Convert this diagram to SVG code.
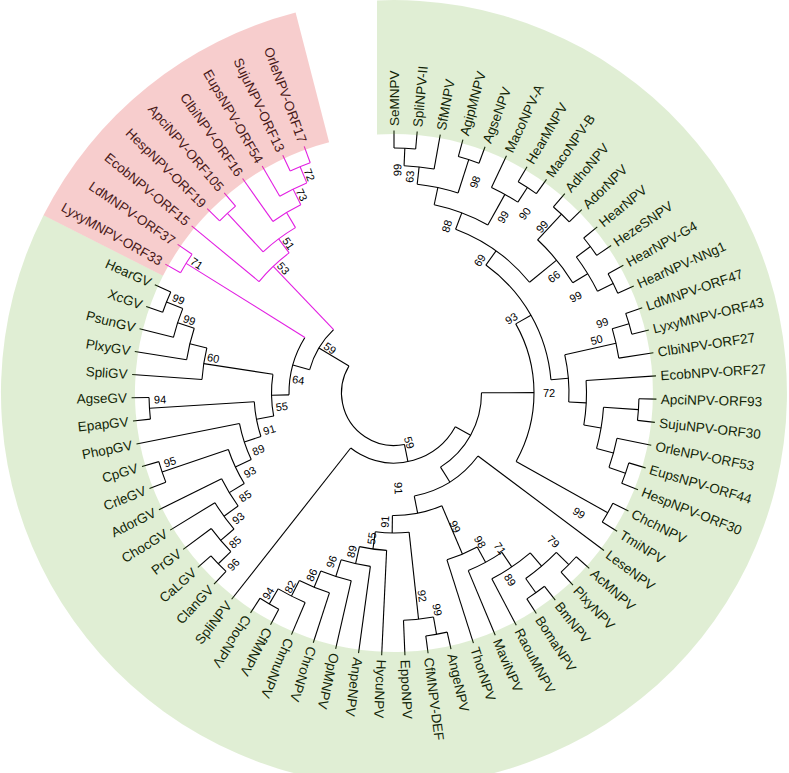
<svg xmlns="http://www.w3.org/2000/svg" width="789" height="773" viewBox="0 0 789 773">
<style>
.e{fill:none;stroke:#000;stroke-width:1.1}
.m{stroke:#e21ee2}
.lf{font-family:"Liberation Sans",Arial,sans-serif;font-size:13.5px;fill:#000}
.fl{text-anchor:end}
.bs{font-family:"Liberation Sans",Arial,sans-serif;font-size:11px;fill:#000;text-anchor:middle}
</style>
<rect width="789" height="773" fill="#fff"/>
<g transform="translate(394,393)">
<g id="connectors">
<g class="e">
<circle r="245" pathLength="360" stroke-dasharray="5.07 400" transform="rotate(-90)"/>
<circle r="227.5" pathLength="360" stroke-dasharray="7.615 400" transform="rotate(-87.465)"/>
<circle r="245" pathLength="360" stroke-dasharray="5.08 400" transform="rotate(-74.78)"/>
<circle r="210" pathLength="360" stroke-dasharray="11.42 400" transform="rotate(-83.66)"/>
<circle r="245" pathLength="360" stroke-dasharray="5.07 400" transform="rotate(-59.55)"/>
<circle r="227.5" pathLength="360" stroke-dasharray="7.615 400" transform="rotate(-64.63)"/>
<circle r="192.5" pathLength="360" stroke-dasharray="17.13 400" transform="rotate(-77.95)"/>
<circle r="245" pathLength="360" stroke-dasharray="5.07 400" transform="rotate(-49.40)"/>
<circle r="245" pathLength="360" stroke-dasharray="5.07 400" transform="rotate(-39.25)"/>
<circle r="245" pathLength="360" stroke-dasharray="5.07 400" transform="rotate(-29.10)"/>
<circle r="227.5" pathLength="360" stroke-dasharray="10.15 400" transform="rotate(-36.715)"/>
<circle r="210" pathLength="360" stroke-dasharray="15.225 400" transform="rotate(-46.865)"/>
<circle r="175" pathLength="360" stroke-dasharray="30.135 400" transform="rotate(-69.385)"/>
<circle r="245" pathLength="360" stroke-dasharray="5.08 400" transform="rotate(-18.96)"/>
<circle r="227.5" pathLength="360" stroke-dasharray="7.61 400" transform="rotate(-16.42)"/>
<circle r="245" pathLength="360" stroke-dasharray="5.08 400" transform="rotate(1.34)"/>
<circle r="245" pathLength="360" stroke-dasharray="5.07 400" transform="rotate(16.57)"/>
<circle r="227.5" pathLength="360" stroke-dasharray="7.615 400" transform="rotate(11.49)"/>
<circle r="210" pathLength="360" stroke-dasharray="11.42 400" transform="rotate(3.88)"/>
<circle r="192.5" pathLength="360" stroke-dasharray="13.32 400" transform="rotate(-3.73)"/>
<circle r="175" pathLength="360" stroke-dasharray="15.545 400" transform="rotate(-12.615)"/>
<circle r="157.5" pathLength="360" stroke-dasharray="49.48 400" transform="rotate(-54.32)"/>
<circle r="245" pathLength="360" stroke-dasharray="5.07 400" transform="rotate(26.72)"/>
<circle r="140" pathLength="360" stroke-dasharray="58.835 400" transform="rotate(-29.58)"/>
<circle r="245" pathLength="360" stroke-dasharray="5.07 400" transform="rotate(52.09)"/>
<circle r="245" pathLength="360" stroke-dasharray="5.07 400" transform="rotate(41.94)"/>
<circle r="227.5" pathLength="360" stroke-dasharray="10.15 400" transform="rotate(44.475)"/>
<circle r="210" pathLength="360" stroke-dasharray="12.69 400" transform="rotate(49.55)"/>
<circle r="192.5" pathLength="360" stroke-dasharray="11.415 400" transform="rotate(55.895)"/>
<circle r="175" pathLength="360" stroke-dasharray="10.79 400" transform="rotate(61.60)"/>
<circle r="245" pathLength="360" stroke-dasharray="5.08 400" transform="rotate(77.46)"/>
<circle r="227.5" pathLength="360" stroke-dasharray="7.61 400" transform="rotate(80)"/>
<circle r="245" pathLength="360" stroke-dasharray="5.07 400" transform="rotate(118.06)"/>
<circle r="227.5" pathLength="360" stroke-dasharray="7.605 400" transform="rotate(112.99)"/>
<circle r="210" pathLength="360" stroke-dasharray="8.88 400" transform="rotate(107.91)"/>
<circle r="192.5" pathLength="360" stroke-dasharray="9.51 400" transform="rotate(102.84)"/>
<circle r="175" pathLength="360" stroke-dasharray="9.835 400" transform="rotate(97.76)"/>
<circle r="157.5" pathLength="360" stroke-dasharray="9.995 400" transform="rotate(92.69)"/>
<circle r="140" pathLength="360" stroke-dasharray="13.88 400" transform="rotate(83.805)"/>
<circle r="122.5" pathLength="360" stroke-dasharray="23.745 400" transform="rotate(67)"/>
<circle r="105" pathLength="360" stroke-dasharray="42 400" transform="rotate(36.87)"/>
<circle r="87.5" pathLength="360" stroke-dasharray="58.03 400" transform="rotate(-0.16)"/>
<circle r="70" pathLength="360" stroke-dasharray="99.355 400" transform="rotate(28.855)"/>
<circle r="245" pathLength="360" stroke-dasharray="5.08 400" transform="rotate(133.28)"/>
<circle r="227.5" pathLength="360" stroke-dasharray="7.61 400" transform="rotate(135.82)"/>
<circle r="210" pathLength="360" stroke-dasharray="8.885 400" transform="rotate(139.625)"/>
<circle r="192.5" pathLength="360" stroke-dasharray="9.51 400" transform="rotate(144.07)"/>
<circle r="245" pathLength="360" stroke-dasharray="5.07 400" transform="rotate(158.66)"/>
<circle r="175" pathLength="360" stroke-dasharray="12.37 400" transform="rotate(148.825)"/>
<circle r="157.5" pathLength="360" stroke-dasharray="13.8 400" transform="rotate(155.01)"/>
<circle r="245" pathLength="360" stroke-dasharray="5.08 400" transform="rotate(173.88)"/>
<circle r="140" pathLength="360" stroke-dasharray="14.51 400" transform="rotate(161.91)"/>
<circle r="245" pathLength="360" stroke-dasharray="5.08 400" transform="rotate(199.25)"/>
<circle r="227.5" pathLength="360" stroke-dasharray="7.61 400" transform="rotate(194.18)"/>
<circle r="210" pathLength="360" stroke-dasharray="8.885 400" transform="rotate(189.10)"/>
<circle r="192.5" pathLength="360" stroke-dasharray="9.51 400" transform="rotate(184.03)"/>
<circle r="122.5" pathLength="360" stroke-dasharray="19.62 400" transform="rotate(169.165)"/>
<circle r="105" pathLength="360" stroke-dasharray="32.965 400" transform="rotate(178.975)"/>
<circle r="87.5" pathLength="360" stroke-dasharray="30.91 400" transform="rotate(195.46)"/>
<circle r="52.5" pathLength="360" stroke-dasharray="132.385 400" transform="rotate(78.53)"/>
<path d="M227.5 0H245" transform="rotate(-87.465)"/>
<path d="M210 0H227.5" transform="rotate(-83.66)"/>
<path d="M210 0H245" transform="rotate(-72.24)"/>
<path d="M192.5 0H210" transform="rotate(-77.95)"/>
<path d="M227.5 0H245" transform="rotate(-57.015)"/>
<path d="M192.5 0H227.5" transform="rotate(-60.82)"/>
<path d="M175 0H192.5" transform="rotate(-69.385)"/>
<path d="M210 0H245" transform="rotate(-46.865)"/>
<path d="M227.5 0H245" transform="rotate(-36.715)"/>
<path d="M227.5 0H245" transform="rotate(-26.565)"/>
<path d="M210 0H227.5" transform="rotate(-31.64)"/>
<path d="M175 0H210" transform="rotate(-39.25)"/>
<path d="M157.5 0H175" transform="rotate(-54.32)"/>
<path d="M227.5 0H245" transform="rotate(-16.42)"/>
<path d="M175 0H227.5" transform="rotate(-12.615)"/>
<path d="M210 0H245" transform="rotate(3.88)"/>
<path d="M227.5 0H245" transform="rotate(19.105)"/>
<path d="M210 0H227.5" transform="rotate(15.30)"/>
<path d="M192.5 0H210" transform="rotate(9.59)"/>
<path d="M175 0H192.5" transform="rotate(2.93)"/>
<path d="M157.5 0H175" transform="rotate(-4.84)"/>
<path d="M140 0H157.5" transform="rotate(-29.58)"/>
<path d="M140 0H245" transform="rotate(29.255)"/>
<path d="M87.5 0H140" transform="rotate(-0.16)"/>
<path d="M227.5 0H245" transform="rotate(54.625)"/>
<path d="M227.5 0H245" transform="rotate(44.475)"/>
<path d="M210 0H227.5" transform="rotate(49.55)"/>
<path d="M192.5 0H210" transform="rotate(55.895)"/>
<path d="M175 0H192.5" transform="rotate(61.60)"/>
<path d="M122.5 0H175" transform="rotate(67)"/>
<path d="M227.5 0H245" transform="rotate(80)"/>
<path d="M140 0H227.5" transform="rotate(83.805)"/>
<path d="M227.5 0H245" transform="rotate(120.595)"/>
<path d="M210 0H227.5" transform="rotate(116.79)"/>
<path d="M192.5 0H210" transform="rotate(112.35)"/>
<path d="M175 0H192.5" transform="rotate(107.595)"/>
<path d="M157.5 0H175" transform="rotate(102.68)"/>
<path d="M140 0H157.5" transform="rotate(97.685)"/>
<path d="M122.5 0H140" transform="rotate(90.745)"/>
<path d="M105 0H122.5" transform="rotate(78.87)"/>
<path d="M87.5 0H105" transform="rotate(57.87)"/>
<path d="M70 0H87.5" transform="rotate(28.855)"/>
<path d="M52.5 0H70" transform="rotate(78.53)"/>
<path d="M227.5 0H245" transform="rotate(135.82)"/>
<path d="M210 0H227.5" transform="rotate(139.625)"/>
<path d="M192.5 0H210" transform="rotate(144.07)"/>
<path d="M175 0H192.5" transform="rotate(148.825)"/>
<path d="M175 0H245" transform="rotate(161.195)"/>
<path d="M157.5 0H175" transform="rotate(155.01)"/>
<path d="M140 0H157.5" transform="rotate(161.91)"/>
<path d="M140 0H245" transform="rotate(176.42)"/>
<path d="M122.5 0H140" transform="rotate(169.165)"/>
<path d="M227.5 0H245" transform="rotate(201.79)"/>
<path d="M210 0H227.5" transform="rotate(197.985)"/>
<path d="M192.5 0H210" transform="rotate(193.54)"/>
<path d="M122.5 0H192.5" transform="rotate(188.785)"/>
<path d="M105 0H122.5" transform="rotate(178.975)"/>
<path d="M87.5 0H105" transform="rotate(195.46)"/>
<path d="M52.5 0H87.5" transform="rotate(210.915)"/>
<path d="M245 0H262.5" transform="rotate(-90)"/>
<path d="M245 0H262.5" transform="rotate(-84.93)"/>
<path d="M227.5 0H262.5" transform="rotate(-79.85)"/>
<path d="M245 0H262.5" transform="rotate(-74.78)"/>
<path d="M245 0H262.5" transform="rotate(-69.70)"/>
<path d="M227.5 0H262.5" transform="rotate(-64.63)"/>
<path d="M245 0H262.5" transform="rotate(-59.55)"/>
<path d="M245 0H262.5" transform="rotate(-54.48)"/>
<path d="M245 0H262.5" transform="rotate(-49.40)"/>
<path d="M245 0H262.5" transform="rotate(-44.33)"/>
<path d="M245 0H262.5" transform="rotate(-39.25)"/>
<path d="M245 0H262.5" transform="rotate(-34.18)"/>
<path d="M245 0H262.5" transform="rotate(-29.10)"/>
<path d="M245 0H262.5" transform="rotate(-24.03)"/>
<path d="M245 0H262.5" transform="rotate(-18.96)"/>
<path d="M245 0H262.5" transform="rotate(-13.88)"/>
<path d="M227.5 0H262.5" transform="rotate(-8.81)"/>
<path d="M192.5 0H262.5" transform="rotate(-3.73)"/>
<path d="M245 0H262.5" transform="rotate(1.34)"/>
<path d="M245 0H262.5" transform="rotate(6.42)"/>
<path d="M227.5 0H262.5" transform="rotate(11.49)"/>
<path d="M245 0H262.5" transform="rotate(16.57)"/>
<path d="M245 0H262.5" transform="rotate(21.64)"/>
<path d="M245 0H262.5" transform="rotate(26.72)"/>
<path d="M245 0H262.5" transform="rotate(31.79)"/>
<path d="M105 0H262.5" transform="rotate(36.87)"/>
<path d="M245 0H262.5" transform="rotate(41.94)"/>
<path d="M245 0H262.5" transform="rotate(47.01)"/>
<path d="M245 0H262.5" transform="rotate(52.09)"/>
<path d="M245 0H262.5" transform="rotate(57.16)"/>
<path d="M210 0H262.5" transform="rotate(62.24)"/>
<path d="M192.5 0H262.5" transform="rotate(67.31)"/>
<path d="M175 0H262.5" transform="rotate(72.39)"/>
<path d="M245 0H262.5" transform="rotate(77.46)"/>
<path d="M245 0H262.5" transform="rotate(82.54)"/>
<path d="M227.5 0H262.5" transform="rotate(87.61)"/>
<path d="M157.5 0H262.5" transform="rotate(92.69)"/>
<path d="M175 0H262.5" transform="rotate(97.76)"/>
<path d="M192.5 0H262.5" transform="rotate(102.84)"/>
<path d="M210 0H262.5" transform="rotate(107.91)"/>
<path d="M227.5 0H262.5" transform="rotate(112.99)"/>
<path d="M245 0H262.5" transform="rotate(118.06)"/>
<path d="M245 0H262.5" transform="rotate(123.13)"/>
<path d="M70 0H262.5" transform="rotate(128.21)"/>
<path d="M245 0H262.5" transform="rotate(133.28)"/>
<path d="M245 0H262.5" transform="rotate(138.36)"/>
<path d="M227.5 0H262.5" transform="rotate(143.43)"/>
<path d="M210 0H262.5" transform="rotate(148.51)"/>
<path d="M192.5 0H262.5" transform="rotate(153.58)"/>
<path d="M245 0H262.5" transform="rotate(158.66)"/>
<path d="M245 0H262.5" transform="rotate(163.73)"/>
<path d="M157.5 0H262.5" transform="rotate(168.81)"/>
<path d="M245 0H262.5" transform="rotate(173.88)"/>
<path d="M245 0H262.5" transform="rotate(178.96)"/>
<path d="M192.5 0H262.5" transform="rotate(184.03)"/>
<path d="M210 0H262.5" transform="rotate(189.10)"/>
<path d="M227.5 0H262.5" transform="rotate(194.18)"/>
<path d="M245 0H262.5" transform="rotate(199.25)"/>
<path d="M245 0H262.5" transform="rotate(204.33)"/>
</g>
<g class="e m">
<circle r="245" pathLength="360" stroke-dasharray="5.08 400" transform="rotate(209.40)"/>
<circle r="245" pathLength="360" stroke-dasharray="5.07 400" transform="rotate(244.93)"/>
<circle r="227.5" pathLength="360" stroke-dasharray="7.615 400" transform="rotate(239.85)"/>
<circle r="210" pathLength="360" stroke-dasharray="8.88 400" transform="rotate(234.78)"/>
<circle r="245" pathLength="360" stroke-dasharray="5.07 400" transform="rotate(224.63)"/>
<circle r="192.5" pathLength="360" stroke-dasharray="12.055 400" transform="rotate(227.165)"/>
<circle r="175" pathLength="360" stroke-dasharray="13.64 400" transform="rotate(219.55)"/>
<path d="M105 0H245" transform="rotate(211.94)"/>
<path d="M227.5 0H245" transform="rotate(247.465)"/>
<path d="M210 0H227.5" transform="rotate(243.66)"/>
<path d="M192.5 0H210" transform="rotate(239.22)"/>
<path d="M192.5 0H245" transform="rotate(227.165)"/>
<path d="M175 0H192.5" transform="rotate(233.19)"/>
<path d="M87.5 0H175" transform="rotate(226.37)"/>
<path d="M245 0H262.5" transform="rotate(209.40)"/>
<path d="M245 0H262.5" transform="rotate(214.48)"/>
<path d="M175 0H262.5" transform="rotate(219.55)"/>
<path d="M245 0H262.5" transform="rotate(224.63)"/>
<path d="M245 0H262.5" transform="rotate(229.70)"/>
<path d="M210 0H262.5" transform="rotate(234.78)"/>
<path d="M227.5 0H262.5" transform="rotate(239.85)"/>
<path d="M245 0H262.5" transform="rotate(244.93)"/>
<path d="M245 0H262.5" transform="rotate(250)"/>
</g>
</g>
<g id="leaves" class="lf">
<g id="leaf-SeMNPV"><text transform="rotate(-90) translate(267)" dy=".35em">SeMNPV</text></g>
<g id="leaf-SpliNPV-II"><text transform="rotate(-84.93) translate(267)" dy=".35em">SpliNPV-II</text></g>
<g id="leaf-SfMNPV"><text transform="rotate(-79.85) translate(267)" dy=".35em">SfMNPV</text></g>
<g id="leaf-AgipMNPV"><text transform="rotate(-74.78) translate(267)" dy=".35em">AgipMNPV</text></g>
<g id="leaf-AgseNPV"><text transform="rotate(-69.70) translate(267)" dy=".35em">AgseNPV</text></g>
<g id="leaf-MacoNPV-A"><text transform="rotate(-64.63) translate(267)" dy=".35em">MacoNPV-A</text></g>
<g id="leaf-HearMNPV"><text transform="rotate(-59.55) translate(267)" dy=".35em">HearMNPV</text></g>
<g id="leaf-MacoNPV-B"><text transform="rotate(-54.48) translate(267)" dy=".35em">MacoNPV-B</text></g>
<g id="leaf-AdhoNPV"><text transform="rotate(-49.40) translate(267)" dy=".35em">AdhoNPV</text></g>
<g id="leaf-AdorNPV"><text transform="rotate(-44.33) translate(267)" dy=".35em">AdorNPV</text></g>
<g id="leaf-HearNPV"><text transform="rotate(-39.25) translate(267)" dy=".35em">HearNPV</text></g>
<g id="leaf-HezeSNPV"><text transform="rotate(-34.18) translate(267)" dy=".35em">HezeSNPV</text></g>
<g id="leaf-HearNPV-G4"><text transform="rotate(-29.10) translate(267)" dy=".35em">HearNPV-G4</text></g>
<g id="leaf-HearNPV-NNg1"><text transform="rotate(-24.03) translate(267)" dy=".35em">HearNPV-NNg1</text></g>
<g id="leaf-LdMNPV-ORF47"><text transform="rotate(-18.96) translate(267)" dy=".35em">LdMNPV-ORF47</text></g>
<g id="leaf-LyxyMNPV-ORF43"><text transform="rotate(-13.88) translate(267)" dy=".35em">LyxyMNPV-ORF43</text></g>
<g id="leaf-ClbiNPV-ORF27"><text transform="rotate(-8.81) translate(267)" dy=".35em">ClbiNPV-ORF27</text></g>
<g id="leaf-EcobNPV-ORF27"><text transform="rotate(-3.73) translate(267)" dy=".35em">EcobNPV-ORF27</text></g>
<g id="leaf-ApciNPV-ORF93"><text transform="rotate(1.34) translate(267)" dy=".35em">ApciNPV-ORF93</text></g>
<g id="leaf-SujuNPV-ORF30"><text transform="rotate(6.42) translate(267)" dy=".35em">SujuNPV-ORF30</text></g>
<g id="leaf-OrleNPV-ORF53"><text transform="rotate(11.49) translate(267)" dy=".35em">OrleNPV-ORF53</text></g>
<g id="leaf-EupsNPV-ORF44"><text transform="rotate(16.57) translate(267)" dy=".35em">EupsNPV-ORF44</text></g>
<g id="leaf-HespNPV-ORF30"><text transform="rotate(21.64) translate(267)" dy=".35em">HespNPV-ORF30</text></g>
<g id="leaf-ChchNPV"><text transform="rotate(26.72) translate(267)" dy=".35em">ChchNPV</text></g>
<g id="leaf-TmiNPV"><text transform="rotate(31.79) translate(267)" dy=".35em">TmiNPV</text></g>
<g id="leaf-LeseNPV"><text transform="rotate(36.87) translate(267)" dy=".35em">LeseNPV</text></g>
<g id="leaf-AcMNPV"><text transform="rotate(41.94) translate(267)" dy=".35em">AcMNPV</text></g>
<g id="leaf-PlxyNPV"><text transform="rotate(47.01) translate(267)" dy=".35em">PlxyNPV</text></g>
<g id="leaf-BmNPV"><text transform="rotate(52.09) translate(267)" dy=".35em">BmNPV</text></g>
<g id="leaf-BomaNPV"><text transform="rotate(57.16) translate(267)" dy=".35em">BomaNPV</text></g>
<g id="leaf-RaouMNPV"><text transform="rotate(62.24) translate(267)" dy=".35em">RaouMNPV</text></g>
<g id="leaf-MaviNPV"><text transform="rotate(67.31) translate(267)" dy=".35em">MaviNPV</text></g>
<g id="leaf-ThorNPV"><text transform="rotate(72.39) translate(267)" dy=".35em">ThorNPV</text></g>
<g id="leaf-AngeNPV"><text transform="rotate(77.46) translate(267)" dy=".35em">AngeNPV</text></g>
<g id="leaf-CfMNPV-DEF"><text transform="rotate(82.54) translate(267)" dy=".35em">CfMNPV-DEF</text></g>
<g id="leaf-EppoNPV"><text transform="rotate(87.61) translate(267)" dy=".35em">EppoNPV</text></g>
<g id="leaf-HycuNPV"><text transform="rotate(92.69) translate(267)" dy=".35em">HycuNPV</text></g>
<g id="leaf-AnpeNPV"><text transform="rotate(97.76) translate(267)" dy=".35em">AnpeNPV</text></g>
<g id="leaf-OpMNPV"><text transform="rotate(102.84) translate(267)" dy=".35em">OpMNPV</text></g>
<g id="leaf-ChroNPV"><text transform="rotate(107.91) translate(267)" dy=".35em">ChroNPV</text></g>
<g id="leaf-ChmuNPV"><text transform="rotate(112.99) translate(267)" dy=".35em">ChmuNPV</text></g>
<g id="leaf-CfMNPV"><text transform="rotate(118.06) translate(267)" dy=".35em">CfMNPV</text></g>
<g id="leaf-ChocNPV"><text transform="rotate(123.13) translate(267)" dy=".35em">ChocNPV</text></g>
<g id="leaf-SpliNPV"><text class="fl" transform="rotate(128.21) translate(267) rotate(180)" dy=".35em">SpliNPV</text></g>
<g id="leaf-ClanGV"><text class="fl" transform="rotate(133.28) translate(267) rotate(180)" dy=".35em">ClanGV</text></g>
<g id="leaf-CaLGV"><text class="fl" transform="rotate(138.36) translate(267) rotate(180)" dy=".35em">CaLGV</text></g>
<g id="leaf-PrGV"><text class="fl" transform="rotate(143.43) translate(267) rotate(180)" dy=".35em">PrGV</text></g>
<g id="leaf-ChocGV"><text class="fl" transform="rotate(148.51) translate(267) rotate(180)" dy=".35em">ChocGV</text></g>
<g id="leaf-AdorGV"><text class="fl" transform="rotate(153.58) translate(267) rotate(180)" dy=".35em">AdorGV</text></g>
<g id="leaf-CrleGV"><text class="fl" transform="rotate(158.66) translate(267) rotate(180)" dy=".35em">CrleGV</text></g>
<g id="leaf-CpGV"><text class="fl" transform="rotate(163.73) translate(267) rotate(180)" dy=".35em">CpGV</text></g>
<g id="leaf-PhopGV"><text class="fl" transform="rotate(168.81) translate(267) rotate(180)" dy=".35em">PhopGV</text></g>
<g id="leaf-EpapGV"><text class="fl" transform="rotate(173.88) translate(267) rotate(180)" dy=".35em">EpapGV</text></g>
<g id="leaf-AgseGV"><text class="fl" transform="rotate(178.96) translate(267) rotate(180)" dy=".35em">AgseGV</text></g>
<g id="leaf-SpliGV"><text class="fl" transform="rotate(184.03) translate(267) rotate(180)" dy=".35em">SpliGV</text></g>
<g id="leaf-PlxyGV"><text class="fl" transform="rotate(189.10) translate(267) rotate(180)" dy=".35em">PlxyGV</text></g>
<g id="leaf-PsunGV"><text class="fl" transform="rotate(194.18) translate(267) rotate(180)" dy=".35em">PsunGV</text></g>
<g id="leaf-XcGV"><text class="fl" transform="rotate(199.25) translate(267) rotate(180)" dy=".35em">XcGV</text></g>
<g id="leaf-HearGV"><text class="fl" transform="rotate(204.33) translate(267) rotate(180)" dy=".35em">HearGV</text></g>
<g id="leaf-LyxyMNPV-ORF33"><text class="fl" transform="rotate(209.40) translate(267) rotate(180)" dy=".35em">LyxyMNPV-ORF33</text></g>
<g id="leaf-LdMNPV-ORF37"><text class="fl" transform="rotate(214.48) translate(267) rotate(180)" dy=".35em">LdMNPV-ORF37</text></g>
<g id="leaf-EcobNPV-ORF15"><text class="fl" transform="rotate(219.55) translate(267) rotate(180)" dy=".35em">EcobNPV-ORF15</text></g>
<g id="leaf-HespNPV-ORF19"><text class="fl" transform="rotate(224.63) translate(267) rotate(180)" dy=".35em">HespNPV-ORF19</text></g>
<g id="leaf-ApciNPV-ORF105"><text class="fl" transform="rotate(229.70) translate(267) rotate(180)" dy=".35em">ApciNPV-ORF105</text></g>
<g id="leaf-ClbiNPV-ORF16"><text class="fl" transform="rotate(234.78) translate(267) rotate(180)" dy=".35em">ClbiNPV-ORF16</text></g>
<g id="leaf-EupsNPV-ORF54"><text class="fl" transform="rotate(239.85) translate(267) rotate(180)" dy=".35em">EupsNPV-ORF54</text></g>
<g id="leaf-SujuNPV-ORF13"><text class="fl" transform="rotate(244.93) translate(267) rotate(180)" dy=".35em">SujuNPV-ORF13</text></g>
<g id="leaf-OrleNPV-ORF17"><text class="fl" transform="rotate(250) translate(267) rotate(180)" dy=".35em">OrleNPV-ORF17</text></g>
</g>
<g id="support" class="bs">
<g id="node-n1"><text transform="rotate(-89.1) translate(223)" dy=".35em">99</text></g>
<g id="node-n2"><text transform="rotate(-85.8) translate(216.9)" dy=".35em">63</text></g>
<g id="node-n3"><text transform="rotate(-69) translate(226)" dy=".35em">98</text></g>
<g id="node-n7"><text transform="rotate(-72.4) translate(175)" dy=".35em">88</text></g>
<g id="node-n5"><text transform="rotate(-58.2) translate(207)" dy=".35em">99</text></g>
<g id="node-n6"><text transform="rotate(-53.9) translate(222)" dy=".35em">90</text></g>
<g id="node-n8"><text transform="rotate(-57.1) translate(158)" dy=".35em">69</text></g>
<g id="node-n9"><text transform="rotate(-48.3) translate(222.8)" dy=".35em">99</text></g>
<g id="node-n13"><text transform="rotate(-36) translate(197.8)" dy=".35em">66</text></g>
<g id="node-n12"><text transform="rotate(-27.9) translate(205.6)" dy=".35em">99</text></g>
<g id="node-n158"><text transform="rotate(-32.4) translate(139)" dy=".35em">93</text></g>
<g id="node-n15"><text transform="rotate(-18.6) translate(219.7)" dy=".35em">99</text></g>
<g id="node-n16"><text transform="rotate(-14.7) translate(209.5)" dy=".35em">50</text></g>
<g id="node-n17"><text transform="rotate(0) translate(155)" dy=".35em">72</text></g>
<g id="node-nT"><text transform="rotate(33) translate(220.5)" dy=".35em">99</text></g>
<g id="node-L"><text transform="rotate(43) translate(218)" dy=".35em">79</text></g>
<g id="node-K"><text transform="rotate(58.2) translate(220)" dy=".35em">89</text></g>
<g id="node-I"><text transform="rotate(55.7) translate(188)" dy=".35em">71</text></g>
<g id="node-H"><text transform="rotate(60) translate(172)" dy=".35em">98</text></g>
<g id="node-G"><text transform="rotate(65.5) translate(147)" dy=".35em">99</text></g>
<g id="node-D"><text transform="rotate(87.4) translate(95.4)" dy=".35em">91</text></g>
<g id="node-A2"><text transform="rotate(73) translate(52)" dy=".35em">59</text></g>
<g id="node-nCA"><text transform="rotate(78.7) translate(221)" dy=".35em">99</text></g>
<g id="node-n92"><text transform="rotate(82.1) translate(205)" dy=".35em">92</text></g>
<g id="node-E91"><text transform="rotate(94) translate(129) rotate(180)" dy=".35em">91</text></g>
<g id="node-n55"><text transform="rotate(98.7) translate(147) rotate(180)" dy=".35em">55</text></g>
<g id="node-n89"><text transform="rotate(104.9) translate(164) rotate(180)" dy=".35em">89</text></g>
<g id="node-n96"><text transform="rotate(110.3) translate(179.8) rotate(180)" dy=".35em">96</text></g>
<g id="node-n86"><text transform="rotate(114.3) translate(199.7) rotate(180)" dy=".35em">86</text></g>
<g id="node-n82"><text transform="rotate(118.2) translate(219.8) rotate(180)" dy=".35em">82</text></g>
<g id="node-n94"><text transform="rotate(122.1) translate(236.5) rotate(180)" dy=".35em">94</text></g>
<g id="node-gv14"><text transform="rotate(133.1) translate(235) rotate(180)" dy=".35em">96</text></g>
<g id="node-gv13"><text transform="rotate(136.8) translate(218) rotate(180)" dy=".35em">85</text></g>
<g id="node-gv12"><text transform="rotate(141.2) translate(199.7) rotate(180)" dy=".35em">93</text></g>
<g id="node-gv11"><text transform="rotate(145.3) translate(181) rotate(180)" dy=".35em">85</text></g>
<g id="node-gv10"><text transform="rotate(151.2) translate(164.4) rotate(180)" dy=".35em">93</text></g>
<g id="node-gv9"><text transform="rotate(157.2) translate(147) rotate(180)" dy=".35em">89</text></g>
<g id="node-gv8"><text transform="rotate(163.5) translate(130) rotate(180)" dy=".35em">91</text></g>
<g id="node-cp"><text transform="rotate(162.9) translate(234.4) rotate(180)" dy=".35em">95</text></g>
<g id="node-gv5"><text transform="rotate(178.4) translate(234) rotate(180)" dy=".35em">94</text></g>
<g id="node-gv0"><text transform="rotate(173) translate(113) rotate(180)" dy=".35em">55</text></g>
<g id="node-gv4"><text transform="rotate(190.9) translate(184) rotate(180)" dy=".35em">60</text></g>
<g id="node-gv2"><text transform="rotate(199.6) translate(217.3) rotate(180)" dy=".35em">99</text></g>
<g id="node-gv1"><text transform="rotate(203.5) translate(235) rotate(180)" dy=".35em">99</text></g>
<g id="node-n64"><text transform="rotate(187.7) translate(96.6) rotate(180)" dy=".35em">64</text></g>
<g id="node-u59"><text transform="rotate(214.9) translate(78) rotate(180)" dy=".35em">59</text></g>
<g id="node-p7"><text transform="rotate(213.3) translate(236) rotate(180)" dy=".35em">71</text></g>
<g id="node-p6"><text transform="rotate(228.4) translate(166.7) rotate(180)" dy=".35em">53</text></g>
<g id="node-p5"><text transform="rotate(234.8) translate(183) rotate(180)" dy=".35em">51</text></g>
<g id="node-p2"><text transform="rotate(245) translate(218.5) rotate(180)" dy=".35em">73</text></g>
<g id="node-p1"><text transform="rotate(248.8) translate(234) rotate(180)" dy=".35em">72</text></g>
</g>
</g>
<path id="green-band" d="M377,0.4 A393,393 0 1 1 43.5,215.2 L163,275.8 A259,259 0 1 0 377,134.6 Z" fill="#64aa28" fill-opacity="0.2"/>
<path id="pink-band" d="M43.5,215.2 A393,393 0 0 1 295.6,12.5 L329.1,142.3 A259,259 0 0 0 163,275.8 Z" fill="#e65a5a" fill-opacity="0.3"/>
</svg>
